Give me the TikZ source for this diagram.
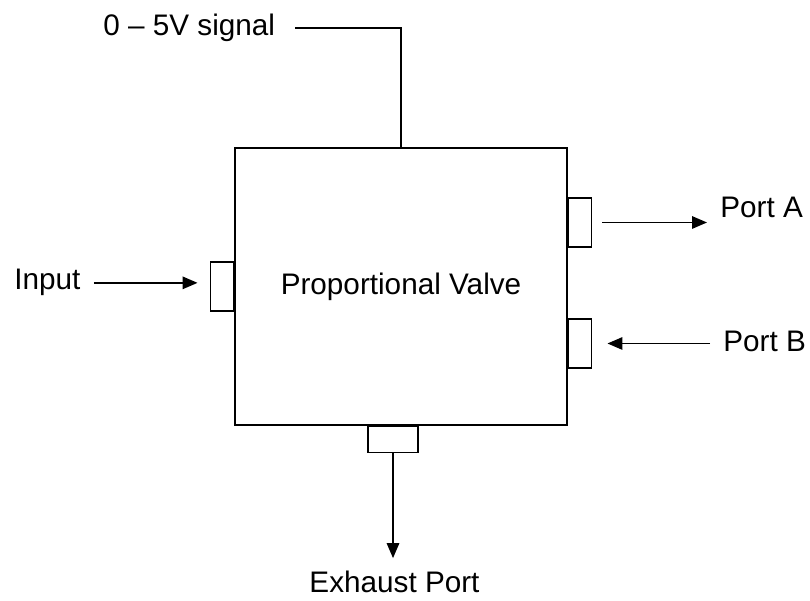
\documentclass[tikz,border=0pt]{standalone}
\usepackage{fontspec}
\setmainfont{Liberation Sans}
\usepackage{tikz}
\usetikzlibrary{arrows.meta,positioning,calc}

\begin{document}
\begin{tikzpicture}[>={Triangle[length=3mm,width=2.5mm]},
 lbl/.style={inner sep=0pt,font=\fontsize{16.9}{20}\selectfont},
 port/.style={draw,line width=0.9pt,inner sep=0pt,minimum width=4.6mm,minimum height=9.7mm},
 flow/.style={->,line width=0.85pt}]
\useasboundingbox (0,0) rectangle (16.2,12.02);
\node[draw,line width=1pt,minimum width=6.64cm,minimum height=5.54cm,
 font=\fontsize{16.9}{20}\selectfont] (valve) at (8.02,6.29) {Proportional Valve};
\node[port,left=0pt of valve.west] (inport) {};
\node[port,right=0pt of valve.east,yshift=12.8mm] (porta) {};
\node[port,right=0pt of valve.east,yshift=-11.4mm] (portb) {};
\node[port,minimum width=10mm,minimum height=5.2mm,below=0pt of valve.south,xshift=-1.6mm] (exhport) {};
% labels
\node[lbl,anchor=base west] (sig) at (2.06,11.30) {0 -- 5V signal};
\node[lbl,anchor=base west] (inlbl) at (0.28,6.22) {Input};
\node[lbl,anchor=base west] (lblA) at (14.4,7.66) {Port A};
\node[lbl,anchor=base west] (lblB) at (14.46,4.99) {Port B};
\node[lbl,anchor=base] (exlbl) at (7.89,0.16) {Exhaust Port};
% connectors
\draw[line width=1pt] ([xshift=4mm]sig.east) -| (valve.north);
\draw[flow] ([xshift=2.6mm]inlbl.east) -- ($(inlbl.east -| inport.west)+(-2.4mm,0)$);
\draw[flow] ([xshift=2mm]porta.east) -- ($(porta.east -| lblA.west)+(-2.6mm,0)$);
\draw[flow] ($(portb.east -| lblB.west)+(-2.6mm,0)$) -- ([xshift=3mm]portb.east);
\draw[flow] (exhport.south) -- ($(exhport.south |- exlbl.north)+(0,2.6mm)$);
\end{tikzpicture}
\end{document}
